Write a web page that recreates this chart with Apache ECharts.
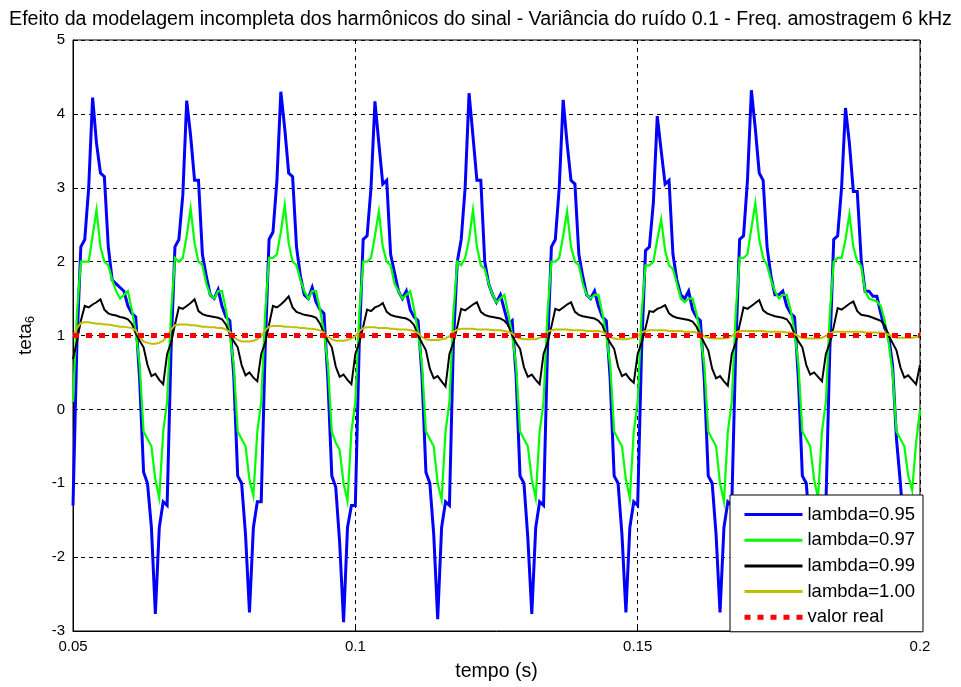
<!DOCTYPE html>
<html>
<head>
<meta charset="utf-8">
<script src="https://cdn.jsdelivr.net/npm/echarts@6/dist/echarts.min.js"></script>
<style>
html,body{margin:0;padding:0;background:#fff;}
#chart{width:961px;height:687px;}
</style>
</head>
<body>
<div id="chart"></div>
<script>
// ---- data ----
const T_START = 0.05;          // s
const STEP = 1 / 1440;         // s between stored points (24 per 60 Hz cycle)
const N_POINTS = 217;          // 0.05 s .. 0.20 s

const xTicks = ['0.05', '0.1', '0.15', '0.2'];
const yTicks = [-3, -2, -1, 0, 1, 2, 3, 4, 5];
const seriesNames = ['lambda=0.95', 'lambda=0.97', 'lambda=0.99', 'lambda=1.00', 'valor real'];

const lambda095 = [
  -1.3, 0.9, 2.2, 2.3, 3.0, 4.22, 3.6, 3.2, 3.15, 2.2, 1.75, 1.7, 1.65, 1.6, 1.4, 1.3, 1.25, 0.4, -0.85, -1.0, -1.6, -2.77, -1.6, -1.25,
  -1.3, 0.8, 2.2, 2.3, 2.9, 4.18, 3.7, 3.1, 3.1, 2.1, 1.8, 1.55, 1.5, 1.62, 1.4, 1.25, 1.2, 0.45, -0.9, -1.0, -1.7, -2.75, -1.6, -1.25,
  -1.25, 0.8, 2.3, 2.4, 3.1, 4.3, 3.8, 3.2, 3.15, 2.2, 1.8, 1.55, 1.5, 1.65, 1.45, 1.35, 1.3, 0.4, -0.9, -1.05, -1.8, -2.88, -1.6, -1.3,
  -1.3, 0.9, 2.3, 2.35, 3.0, 4.17, 3.6, 3.05, 3.1, 2.1, 1.85, 1.6, 1.5, 1.6, 1.35, 1.25, 1.2, 0.45, -0.85, -1.0, -1.7, -2.84, -1.6, -1.25,
  -1.3, 0.9, 2.0, 2.3, 3.0, 4.28, 3.7, 3.1, 3.1, 2.0, 1.7, 1.55, 1.45, 1.55, 1.35, 1.15, 1.2, 0.45, -0.9, -1.0, -1.75, -2.77, -1.6, -1.25,
  -1.3, 0.8, 2.2, 2.3, 3.0, 4.19, 3.6, 3.1, 3.05, 2.1, 1.8, 1.55, 1.5, 1.6, 1.4, 1.25, 1.2, 0.4, -0.9, -1.0, -1.7, -2.75, -1.6, -1.25,
  -1.3, 0.8, 2.15, 2.2, 2.8, 3.97, 3.5, 3.05, 3.1, 2.1, 1.75, 1.55, 1.5, 1.6, 1.35, 1.25, 1.2, 0.4, -0.9, -1.0, -1.7, -2.75, -1.6, -1.25,
  -1.3, 0.8, 2.3, 2.35, 3.1, 4.32, 3.8, 3.2, 3.1, 2.2, 1.8, 1.55, 1.55, 1.6, 1.4, 1.3, 1.25, 0.4, -0.9, -1.0, -1.7, -2.75, -1.6, -1.25,
  -1.3, 0.8, 2.3, 2.35, 3.0, 4.08, 3.6, 2.95, 2.95, 2.03, 1.6, 1.6, 1.53, 1.53, 1.3, 1.1, 1.0, 0.6, -0.4, -1.0, -1.7, -2.75, -1.6, -1.25,
  -1.3
];

const lambda097 = [
  0.1, 1.3, 2.0, 2.0, 2.0, 2.35, 2.7, 2.2, 2.0, 1.95, 1.75, 1.6, 1.5, 1.55, 1.6, 1.35, 1.05, 0.6, -0.3, -0.4, -0.5, -0.95, -1.2, -0.3,
  0.1, 1.3, 2.05, 2.0, 2.05, 2.35, 2.72, 2.25, 2.0, 1.95, 1.7, 1.55, 1.5, 1.6, 1.6, 1.35, 1.0, 0.6, -0.3, -0.4, -0.5, -0.95, -1.17, -0.3,
  0.1, 1.3, 2.05, 2.05, 2.1, 2.4, 2.77, 2.25, 2.0, 1.95, 1.75, 1.6, 1.5, 1.6, 1.6, 1.35, 1.05, 0.6, -0.3, -0.45, -0.55, -1.0, -1.24, -0.3,
  0.1, 1.3, 2.0, 2.0, 2.05, 2.35, 2.68, 2.2, 2.0, 1.95, 1.7, 1.6, 1.5, 1.55, 1.6, 1.35, 1.05, 0.6, -0.3, -0.4, -0.5, -1.0, -1.22, -0.3,
  0.1, 1.3, 2.0, 1.95, 2.05, 2.3, 2.7, 2.2, 1.95, 1.9, 1.7, 1.55, 1.45, 1.5, 1.55, 1.3, 1.0, 0.6, -0.3, -0.4, -0.5, -0.95, -1.2, -0.3,
  0.1, 1.3, 2.0, 2.0, 2.05, 2.35, 2.68, 2.2, 2.0, 1.95, 1.7, 1.55, 1.5, 1.55, 1.55, 1.3, 1.0, 0.6, -0.3, -0.4, -0.5, -0.95, -1.2, -0.3,
  0.1, 1.3, 1.95, 1.95, 2.0, 2.3, 2.57, 2.15, 1.95, 1.9, 1.7, 1.5, 1.45, 1.5, 1.5, 1.3, 1.0, 0.6, -0.3, -0.4, -0.5, -1.0, -1.25, -0.3,
  0.1, 1.3, 2.05, 2.05, 2.1, 2.45, 2.79, 2.3, 2.05, 1.95, 1.75, 1.6, 1.5, 1.55, 1.55, 1.35, 1.05, 0.6, -0.3, -0.4, -0.5, -0.95, -1.2, -0.3,
  0.1, 1.3, 2.0, 2.05, 2.05, 2.3, 2.64, 2.2, 2.0, 1.94, 1.6, 1.5, 1.48, 1.46, 1.4, 1.2, 0.9, 0.5, -0.3, -0.4, -0.5, -0.9, -1.1, -0.45,
  0.0
];

const lambda099 = [
  0.68, 0.92, 1.2, 1.4, 1.38, 1.42, 1.45, 1.49, 1.35, 1.3, 1.28, 1.27, 1.25, 1.24, 1.22, 1.16, 1.03, 0.93, 0.84, 0.6, 0.45, 0.48, 0.4, 0.34,
  0.75, 0.9, 1.15, 1.38, 1.36, 1.4, 1.44, 1.49, 1.33, 1.29, 1.27, 1.26, 1.25, 1.24, 1.22, 1.15, 1.02, 0.92, 0.84, 0.6, 0.46, 0.5, 0.43, 0.38,
  0.75, 0.9, 1.15, 1.4, 1.38, 1.42, 1.47, 1.53, 1.38, 1.32, 1.3, 1.28, 1.27, 1.26, 1.24, 1.16, 1.03, 0.93, 0.84, 0.58, 0.44, 0.47, 0.4, 0.34,
  0.75, 0.9, 1.12, 1.35, 1.33, 1.38, 1.4, 1.44, 1.32, 1.28, 1.26, 1.25, 1.24, 1.23, 1.2, 1.14, 1.0, 0.9, 0.8, 0.55, 0.42, 0.45, 0.38, 0.31,
  0.75, 0.9, 1.12, 1.36, 1.34, 1.38, 1.42, 1.45, 1.32, 1.28, 1.26, 1.25, 1.24, 1.23, 1.2, 1.14, 1.0, 0.9, 0.82, 0.57, 0.44, 0.47, 0.4, 0.34,
  0.75, 0.9, 1.12, 1.36, 1.34, 1.38, 1.42, 1.45, 1.32, 1.28, 1.26, 1.25, 1.24, 1.23, 1.2, 1.14, 1.0, 0.9, 0.82, 0.58, 0.45, 0.48, 0.41, 0.36,
  0.75, 0.9, 1.1, 1.33, 1.32, 1.36, 1.38, 1.41, 1.3, 1.26, 1.24, 1.23, 1.22, 1.21, 1.19, 1.12, 1.0, 0.9, 0.8, 0.55, 0.42, 0.45, 0.38, 0.32,
  0.75, 0.9, 1.14, 1.38, 1.36, 1.4, 1.44, 1.48, 1.34, 1.3, 1.28, 1.26, 1.25, 1.24, 1.22, 1.15, 1.02, 0.92, 0.84, 0.6, 0.47, 0.5, 0.44, 0.38,
  0.75, 0.9, 1.12, 1.37, 1.35, 1.39, 1.43, 1.46, 1.33, 1.28, 1.27, 1.26, 1.24, 1.22, 1.2, 1.14, 1.0, 0.9, 0.8, 0.57, 0.43, 0.46, 0.4, 0.34,
  0.6
];

const lambda100 = [
  0.99, 1.1, 1.17, 1.18, 1.18, 1.17, 1.16, 1.16, 1.15, 1.15, 1.14, 1.13, 1.12, 1.12, 1.11, 1.1, 1.07, 0.98, 0.92, 0.9, 0.89, 0.89, 0.9, 0.93,
  0.99, 1.08, 1.14, 1.15, 1.15, 1.15, 1.14, 1.14, 1.13, 1.12, 1.12, 1.11, 1.11, 1.1, 1.1, 1.08, 1.05, 0.98, 0.94, 0.92, 0.92, 0.92, 0.93, 0.95,
  0.99, 1.07, 1.12, 1.13, 1.13, 1.13, 1.12, 1.12, 1.11, 1.11, 1.1, 1.1, 1.09, 1.09, 1.08, 1.07, 1.04, 0.98, 0.95, 0.93, 0.93, 0.93, 0.94, 0.96,
  0.99, 1.06, 1.1, 1.11, 1.11, 1.11, 1.1, 1.1, 1.1, 1.09, 1.09, 1.08, 1.08, 1.08, 1.07, 1.06, 1.03, 0.98, 0.95, 0.94, 0.94, 0.94, 0.95, 0.96,
  0.99, 1.05, 1.08, 1.09, 1.09, 1.09, 1.09, 1.08, 1.08, 1.08, 1.08, 1.07, 1.07, 1.07, 1.06, 1.05, 1.03, 0.98, 0.96, 0.95, 0.95, 0.95, 0.95, 0.97,
  0.99, 1.05, 1.07, 1.08, 1.08, 1.08, 1.08, 1.07, 1.07, 1.07, 1.07, 1.06, 1.06, 1.06, 1.06, 1.05, 1.02, 0.98, 0.96, 0.95, 0.95, 0.95, 0.96, 0.97,
  0.99, 1.04, 1.06, 1.07, 1.07, 1.07, 1.07, 1.07, 1.06, 1.06, 1.06, 1.06, 1.05, 1.05, 1.05, 1.04, 1.02, 0.99, 0.97, 0.96, 0.96, 0.96, 0.96, 0.97,
  0.99, 1.04, 1.06, 1.06, 1.06, 1.06, 1.06, 1.06, 1.06, 1.05, 1.05, 1.05, 1.05, 1.05, 1.04, 1.04, 1.02, 0.99, 0.97, 0.96, 0.96, 0.96, 0.96, 0.97,
  0.99, 1.03, 1.05, 1.05, 1.05, 1.05, 1.05, 1.05, 1.05, 1.05, 1.04, 1.04, 1.04, 1.04, 1.04, 1.03, 1.01, 0.99, 0.97, 0.97, 0.97, 0.97, 0.97, 0.98,
  0.99
];

const valorReal = [1, 1];
const valorRealTimes = [0.05, 0.2];

// ---- build ----
const times = [];
for (let i = 0; i < N_POINTS; i++) times.push(T_START + i * STEP);
const pairs = (ys, xs) => ys.map((y, i) => [xs[i], y]);

const FONT = '"Liberation Sans", Arial, Helvetica, sans-serif';
const colors = ['#0000ff', '#00ff00', '#000000', '#bfbf00', '#ff0000'];
const widths = [3, 2.2, 2, 2, 5];
const legendWidths = [3, 3, 3, 3, 5];
const redDash = [6, 7];

const chart = echarts.init(document.getElementById('chart'), null, {renderer: 'canvas'});

const lineSeries = (idx, data) => ({
  name: seriesNames[idx],
  type: 'line',
  data: data,
  showSymbol: false,
  symbol: 'none',
  animation: false,
  clip: true,
  lineStyle: {color: colors[idx], width: widths[idx], cap: 'butt', join: 'miter',
              type: idx === 4 ? redDash : 'solid'},
  itemStyle: {color: colors[idx]},
  emphasis: {disabled: true}
});

chart.setOption({
  backgroundColor: '#ffffff',
  animation: false,
  textStyle: {fontFamily: FONT},
  title: {
    text: 'Efeito da modelagem incompleta dos harmônicos do sinal - Variância do ruído 0.1 - Freq. amostragem 6 kHz',
    left: 'center',
    top: 5,
    textStyle: {fontFamily: FONT, fontSize: 19.6, fontWeight: 'normal', color: '#000'}
  },
  grid: {
    left: 73, right: 41, top: 40, bottom: 55,
    show: true, borderColor: '#000', borderWidth: 1, backgroundColor: '#fff'
  },
  legend: {
    data: seriesNames.map((n, i) => ({
      name: n,
      lineStyle: {color: colors[i], width: legendWidths[i], type: i === 4 ? redDash : 'solid', cap: 'butt'}
    })),
    orient: 'vertical',
    left: 730,
    top: 495,
    backgroundColor: '#fff',
    borderColor: '#000',
    borderWidth: 1,
    padding: [10, 8, 5, 12],
    itemWidth: 58,
    itemHeight: 16,
    itemGap: 6.7,
    selectedMode: false,
    itemStyle: {opacity: 0, borderWidth: 0},
    textStyle: {fontFamily: FONT, fontSize: 18.5, color: '#000'}
  },
  xAxis: {
    type: 'value',
    min: 0.05,
    max: 0.2,
    interval: 0.05,
    name: 'tempo (s)',
    nameLocation: 'middle',
    nameGap: 31,
    nameTextStyle: {fontFamily: FONT, fontSize: 19.5, color: '#000'},
    axisLine: {show: true, onZero: false, lineStyle: {color: '#000', width: 1}},
    axisTick: {show: true, inside: true, length: 5, lineStyle: {color: '#000'}},
    axisLabel: {
      color: '#000', fontFamily: FONT, fontSize: 15, margin: 8,
      formatter: v => xTicks[Math.round((v - 0.05) / 0.05)]
    },
    splitLine: {show: true, lineStyle: {color: '#000', width: 1, type: [4, 4]}}
  },
  yAxis: {
    type: 'value',
    min: yTicks[0],
    max: yTicks[yTicks.length - 1],
    interval: 1,
    name: '{a|teta}{b|6}',
    nameLocation: 'middle',
    nameGap: 36,
    nameRotate: 90,
    nameTextStyle: {
      fontFamily: FONT, color: '#000',
      rich: {
        a: {fontFamily: FONT, fontSize: 19, color: '#000'},
        b: {fontFamily: FONT, fontSize: 13, color: '#000', padding: [10, 0, 0, 0]}
      }
    },
    axisLine: {show: true, onZero: false, lineStyle: {color: '#000', width: 1}},
    axisTick: {show: true, inside: true, length: 5, lineStyle: {color: '#000'}},
    axisLabel: {color: '#000', fontFamily: FONT, fontSize: 15, margin: 8},
    splitLine: {show: true, lineStyle: {color: '#000', width: 1, type: [4, 4]}}
  },
  series: [
    lineSeries(0, pairs(lambda095, times)),
    lineSeries(1, pairs(lambda097, times)),
    lineSeries(2, pairs(lambda099, times)),
    lineSeries(3, pairs(lambda100, times)),
    lineSeries(4, pairs(valorReal, valorRealTimes))
  ]
});
</script>
</body>
</html>
